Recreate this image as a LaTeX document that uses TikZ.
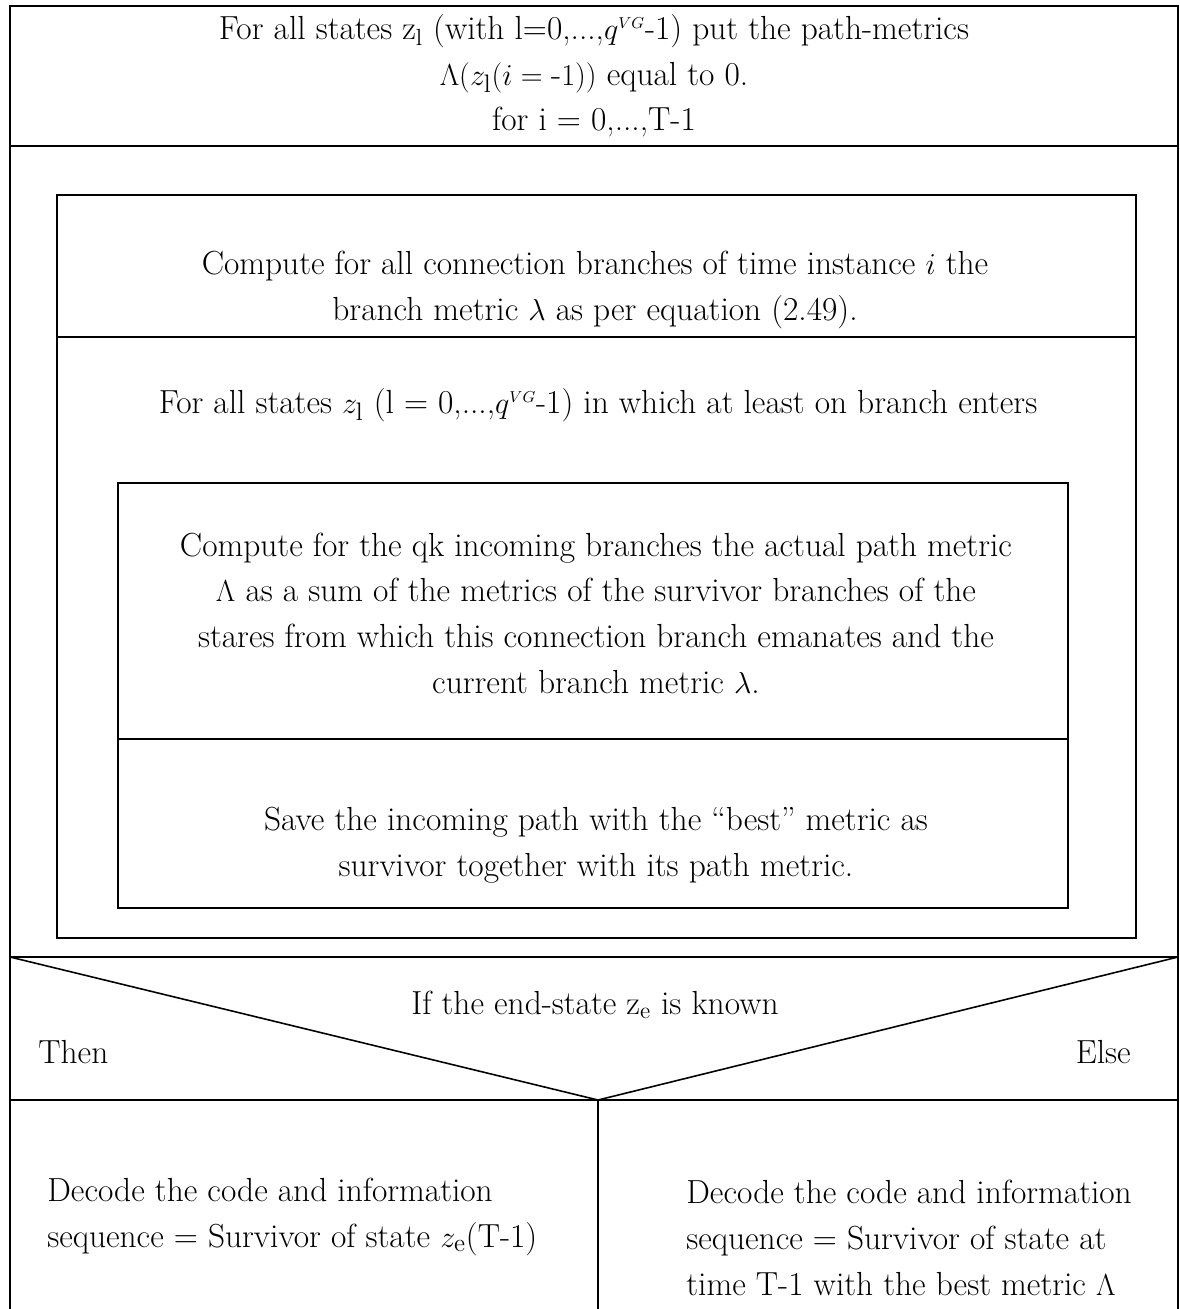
\documentclass[tikz,border=0pt]{standalone}
\usepackage{amsmath}

\tikzset{
    txt/.style={align=center, inner sep=0pt, font=\fontsize{19}{26}\selectfont},
    txtl/.style={align=left, anchor=west, inner sep=0pt, font=\fontsize{19}{26}\selectfont},
    frame/.style={line width=0.9pt}
}

\begin{document}
\begin{tikzpicture}[x=0.02cm, y=-0.02cm]
    \useasboundingbox[fill=white] (0, 0) rectangle (1180, 1309);

    % outer frame and the loop block
    \draw[frame] (10, 1309) -- (10, 6) -- (1178, 6) -- (1178, 1309);
    \draw[frame] (10, 146) -- (1178, 146);
    \draw[frame] (57, 195) rectangle (1136, 938);
    \draw[frame] (57, 337) -- (1136, 337);
    \draw[frame] (118, 483) rectangle (1068, 908);
    \draw[frame] (118, 739) -- (1068, 739);

    % decision
    \draw[frame] (10, 957) -- (1178, 957);
    \draw[frame] (10, 957) -- (598, 1100) -- (1178, 957);
    \draw[frame] (10, 1100) -- (1178, 1100);
    \draw[frame] (598, 1100) -- (598, 1309);

    \node[txt] (init) at (594, 76) {For all states z\textsubscript{l} (with l=0,...,$q^{\scriptscriptstyle VG}$-1) put the path-metrics\\
        $\Lambda(z_{\mathrm{l}}(i = \mbox{-}1))$ equal to 0.\\
        for i = 0,...,T-1};
    \node[txt] (branch) at (595, 290) {Compute for all connection branches of time instance $i$ the\\
        branch metric $\lambda$ as per equation (2.49).};
    \node[txt] (states) at (598, 405) {For all states $z_{\mathrm{l}}$ (l = 0,...,$q^{\scriptscriptstyle VG}$-1) in which at least on branch enters};
    \node[txt] (acs) at (596, 613) {Compute for the qk incoming branches the actual path metric\\
        $\Lambda$ as a sum of the metrics of the survivor branches of the\\
        stares from which this connection branch emanates and the\\
        current branch metric $\lambda$.};
    \node[txt] (save) at (596, 845) {Save the incoming path with the ``best'' metric as\\
        survivor together with its path metric.};

    \node[txt] (cond) at (595, 1005) {If the end-state z\textsubscript{e} is known};
    \node[txtl] (then) at (38, 1052) {Then};
    \node[txt, anchor=east] (else) at (1131, 1052) {Else};

    \node[txtl] (known) at (47, 1217) {Decode the code and information\\
        sequence = Survivor of state $z_{\mathrm{e}}$(T-1)};
    \node[txtl] (unknown) at (686, 1238) {Decode the code and information\\
        sequence = Survivor of state at\\
        time T-1 with the best metric $\Lambda$};
\end{tikzpicture}
\end{document}
